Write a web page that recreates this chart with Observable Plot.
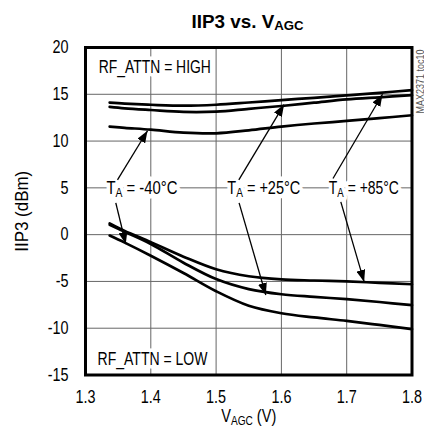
<!DOCTYPE html>
<html><head><meta charset="utf-8">
<script src="https://cdn.jsdelivr.net/npm/d3@7"></script>
<script src="https://cdn.jsdelivr.net/npm/@observablehq/plot@0.6"></script>
<style>
body{margin:0;background:#fff;}
#wrap{width:424px;height:434px;position:relative;font-family:"Liberation Sans",Arial,sans-serif;}
#title{height:40px;box-sizing:border-box;padding-top:12px;padding-left:72px;text-align:center;font-weight:bold;font-size:19px;line-height:20px;color:#000;white-space:nowrap;}
#title .t{display:inline-block;transform-origin:50% 50%;}
#title .sub{font-size:70%;vertical-align:-2px;}
#chart svg{display:block;}
</style></head>
<body><div id="wrap"><div id="title"><span class="t">IIP3 vs. V<span class="sub">AGC</span></span></div><div id="chart"></div></div>
<script>
const FONT = '"Liberation Sans",Arial,sans-serif';
// x values (V_AGC, volts)
const vagc = [1.337, 1.36, 1.40, 1.45, 1.50, 1.55, 1.60, 1.65, 1.70, 1.75, 1.80];
// RF_ATTN = HIGH
const highP85 = [14.1, 14.0, 13.88, 13.78, 13.88, 14.12, 14.38, 14.62, 14.88, 15.15, 15.45];
const highP25 = [13.65, 13.5, 13.32, 13.12, 13.15, 13.45, 13.75, 14.1, 14.45, 14.68, 14.9];
const highM40 = [11.55, 11.42, 11.22, 10.9, 10.83, 11.15, 11.55, 11.88, 12.15, 12.45, 12.76];
// RF_ATTN = LOW
const lowP85 = [1.2, 0.4, -0.8, -2.35, -3.7, -4.45, -4.78, -4.9, -5.0, -5.15, -5.3];
const lowP25 = [1.05, 0.3, -1.0, -3.0, -4.75, -5.82, -6.37, -6.65, -6.9, -7.2, -7.54];
const lowM40 = [-0.1, -0.85, -2.25, -4.1, -6.05, -7.6, -8.4, -8.85, -9.22, -9.65, -10.1];

const xTicks = [1.3, 1.4, 1.5, 1.6, 1.7, 1.8];
const yTicks = [-15, -10, -5, 0, 5, 10, 15, 20];

// temperature labels (sit on the 5 dBm gridline)
const tempText = ["T_{A} = -40°C", "T_{A} = +25°C", "T_{A} = +85°C"];
const tempX = [1.3864, 1.573, 1.7263];
const tempY = [5, 5, 5];

// condition labels
const attnText = ["RF_ATTN = HIGH", "RF_ATTN = LOW"];
const attnX = [1.3204, 1.3184];
const attnY = [17.84, -13.28];

// annotation arrows
const arrX1 = [1.349, 1.3464, 1.5348, 1.5352, 1.679, 1.691];
const arrY1 = [5.85, 3.4, 5.85, 3.4, 6.0, 3.5];
const arrX2 = [1.395, 1.3617, 1.6041, 1.5761, 1.7548, 1.7267];
const arrY2 = [11.1, -1.0, 13.9, -6.45, 15.0, -5.05];

const series = [
  {key: "high+85", vals: highP85}, {key: "high+25", vals: highP25}, {key: "high-40", vals: highM40},
  {key: "low+85", vals: lowP85}, {key: "low+25", vals: lowP25}, {key: "low-40", vals: lowM40}
];
const rows = series.flatMap(s => s.vals.map((v, i) => ({key: s.key, x: vagc[i], y: v})));
const temps = tempText.map((t, i) => ({t, x: tempX[i], y: tempY[i]}));
const attns = attnText.map((t, i) => ({t, x: attnX[i], y: attnY[i]}));
const arrows = arrX1.map((d, i) => ({x1: arrX1[i], y1: arrY1[i], x2: arrX2[i], y2: arrY2[i]}));

const plot = Plot.plot({
  width: 424, height: 394,
  marginTop: 7, marginBottom: 59.5, marginLeft: 85, marginRight: 12.5,
  style: {fontFamily: FONT, fontSize: "18px", color: "black", background: "white"},
  x: {domain: [1.3, 1.8]},
  y: {domain: [-15, 20]},
  marks: [
    Plot.gridX(xTicks, {stroke: "#666", strokeOpacity: 1, strokeWidth: 1}),
    Plot.gridY(yTicks, {stroke: "#666", strokeOpacity: 1, strokeWidth: 1}),
    Plot.axisX(xTicks, {tickSize: 0, tickPadding: 15, tickFormat: d => d.toFixed(1), label: null, fontSize: 18}),
    Plot.axisY(yTicks, {tickSize: 0, tickPadding: 17, tickFormat: d => String(d), label: null, fontSize: 18}),
    Plot.line(rows, {x: "x", y: "y", z: "key", curve: "catmull-rom", stroke: "black", strokeWidth: 2.7}),
    Plot.text(temps, {x: "x", y: "y", text: "t", fill: "black", stroke: "white", strokeWidth: 9, paintOrder: "stroke", fontSize: 18, textAnchor: "middle", lineAnchor: "middle"}),
    Plot.text(attns, {x: "x", y: "y", text: "t", fill: "black", stroke: "white", strokeWidth: 7, paintOrder: "stroke", fontSize: 18, textAnchor: "start", lineAnchor: "middle"}),
    Plot.link(arrows, {x1: "x1", y1: "y1", x2: "x2", y2: "y2", stroke: "black", strokeWidth: 1.3, className: "ann-arrow"}),
    Plot.frame({stroke: "black", strokeWidth: 3}),
    Plot.text(["V_{AGC} (V)"], {frameAnchor: "bottom", dy: 41, fontSize: 18, fill: "black", textAnchor: "middle", lineAnchor: "middle"}),
    Plot.text(["IIP3 (dBm)"], {frameAnchor: "left", rotate: -90, dx: -63, fontSize: 18, fill: "black", textAnchor: "middle", lineAnchor: "middle"}),
    Plot.text(["MAX2371 toc10"], {frameAnchor: "top-right", rotate: -90, dx: 9, dy: 34, fontSize: 10, fill: "#555", textAnchor: "middle", lineAnchor: "middle"})
  ]
});

const ns = "http://www.w3.org/2000/svg";
// filled arrowheads
const defs = document.createElementNS(ns, "defs");
const mk = document.createElementNS(ns, "marker");
mk.setAttribute("id", "ahead");
mk.setAttribute("viewBox", "-12 -4.5 12 9");
mk.setAttribute("markerWidth", "12");
mk.setAttribute("markerHeight", "9");
mk.setAttribute("markerUnits", "userSpaceOnUse");
mk.setAttribute("orient", "auto");
mk.setAttribute("refX", "0");
mk.setAttribute("refY", "0");
const mp = document.createElementNS(ns, "path");
mp.setAttribute("d", "M-12,-4.5L0,0L-12,4.5Z");
mp.setAttribute("fill", "black");
mp.setAttribute("stroke", "none");
mk.appendChild(mp);
defs.appendChild(mk);
plot.insertBefore(defs, plot.firstChild);
plot.querySelectorAll(".ann-arrow path, path.ann-arrow").forEach(p => p.setAttribute("marker-end", "url(#ahead)"));

// subscripts
plot.querySelectorAll("text").forEach(el => {
  const s = el.textContent;
  if (!s.includes("_{")) return;
  const parts = s.split(/(_\{[^}]*\})/).filter(p => p);
  while (el.firstChild) el.removeChild(el.firstChild);
  let shifted = false;
  for (const p of parts) {
    const t = document.createElementNS(ns, "tspan");
    if (p.startsWith("_{")) {
      t.textContent = p.slice(2, -1);
      t.setAttribute("font-size", "12.5");
      t.setAttribute("dy", "3");
      shifted = true;
    } else {
      t.textContent = p;
      if (shifted) { t.setAttribute("dy", "-3"); shifted = false; }
    }
    el.appendChild(t);
  }
});

document.getElementById("chart").appendChild(plot);

// condense text (reference uses a condensed face)
const targets = {
  "IIP3 (dBm)": 81, "RF_ATTN = HIGH": 112, "RF_ATTN = LOW": 110, "MAX2371 toc10": 64,
  "VAGC (V)": 55, "TA = -40°C": 71, "TA = +25°C": 73, "TA = +85°C": 70
};
plot.querySelectorAll("text").forEach(el => {
  const len = el.getComputedTextLength();
  if (!len) return;
  const target = targets[el.textContent] ?? len * 0.8;
  el.setAttribute("textLength", target);
  el.setAttribute("lengthAdjust", "spacingAndGlyphs");
});
const tspan = document.querySelector("#title .t");
tspan.style.transform = `scaleX(${112 / tspan.getBoundingClientRect().width})`;
</script>
</body></html>
